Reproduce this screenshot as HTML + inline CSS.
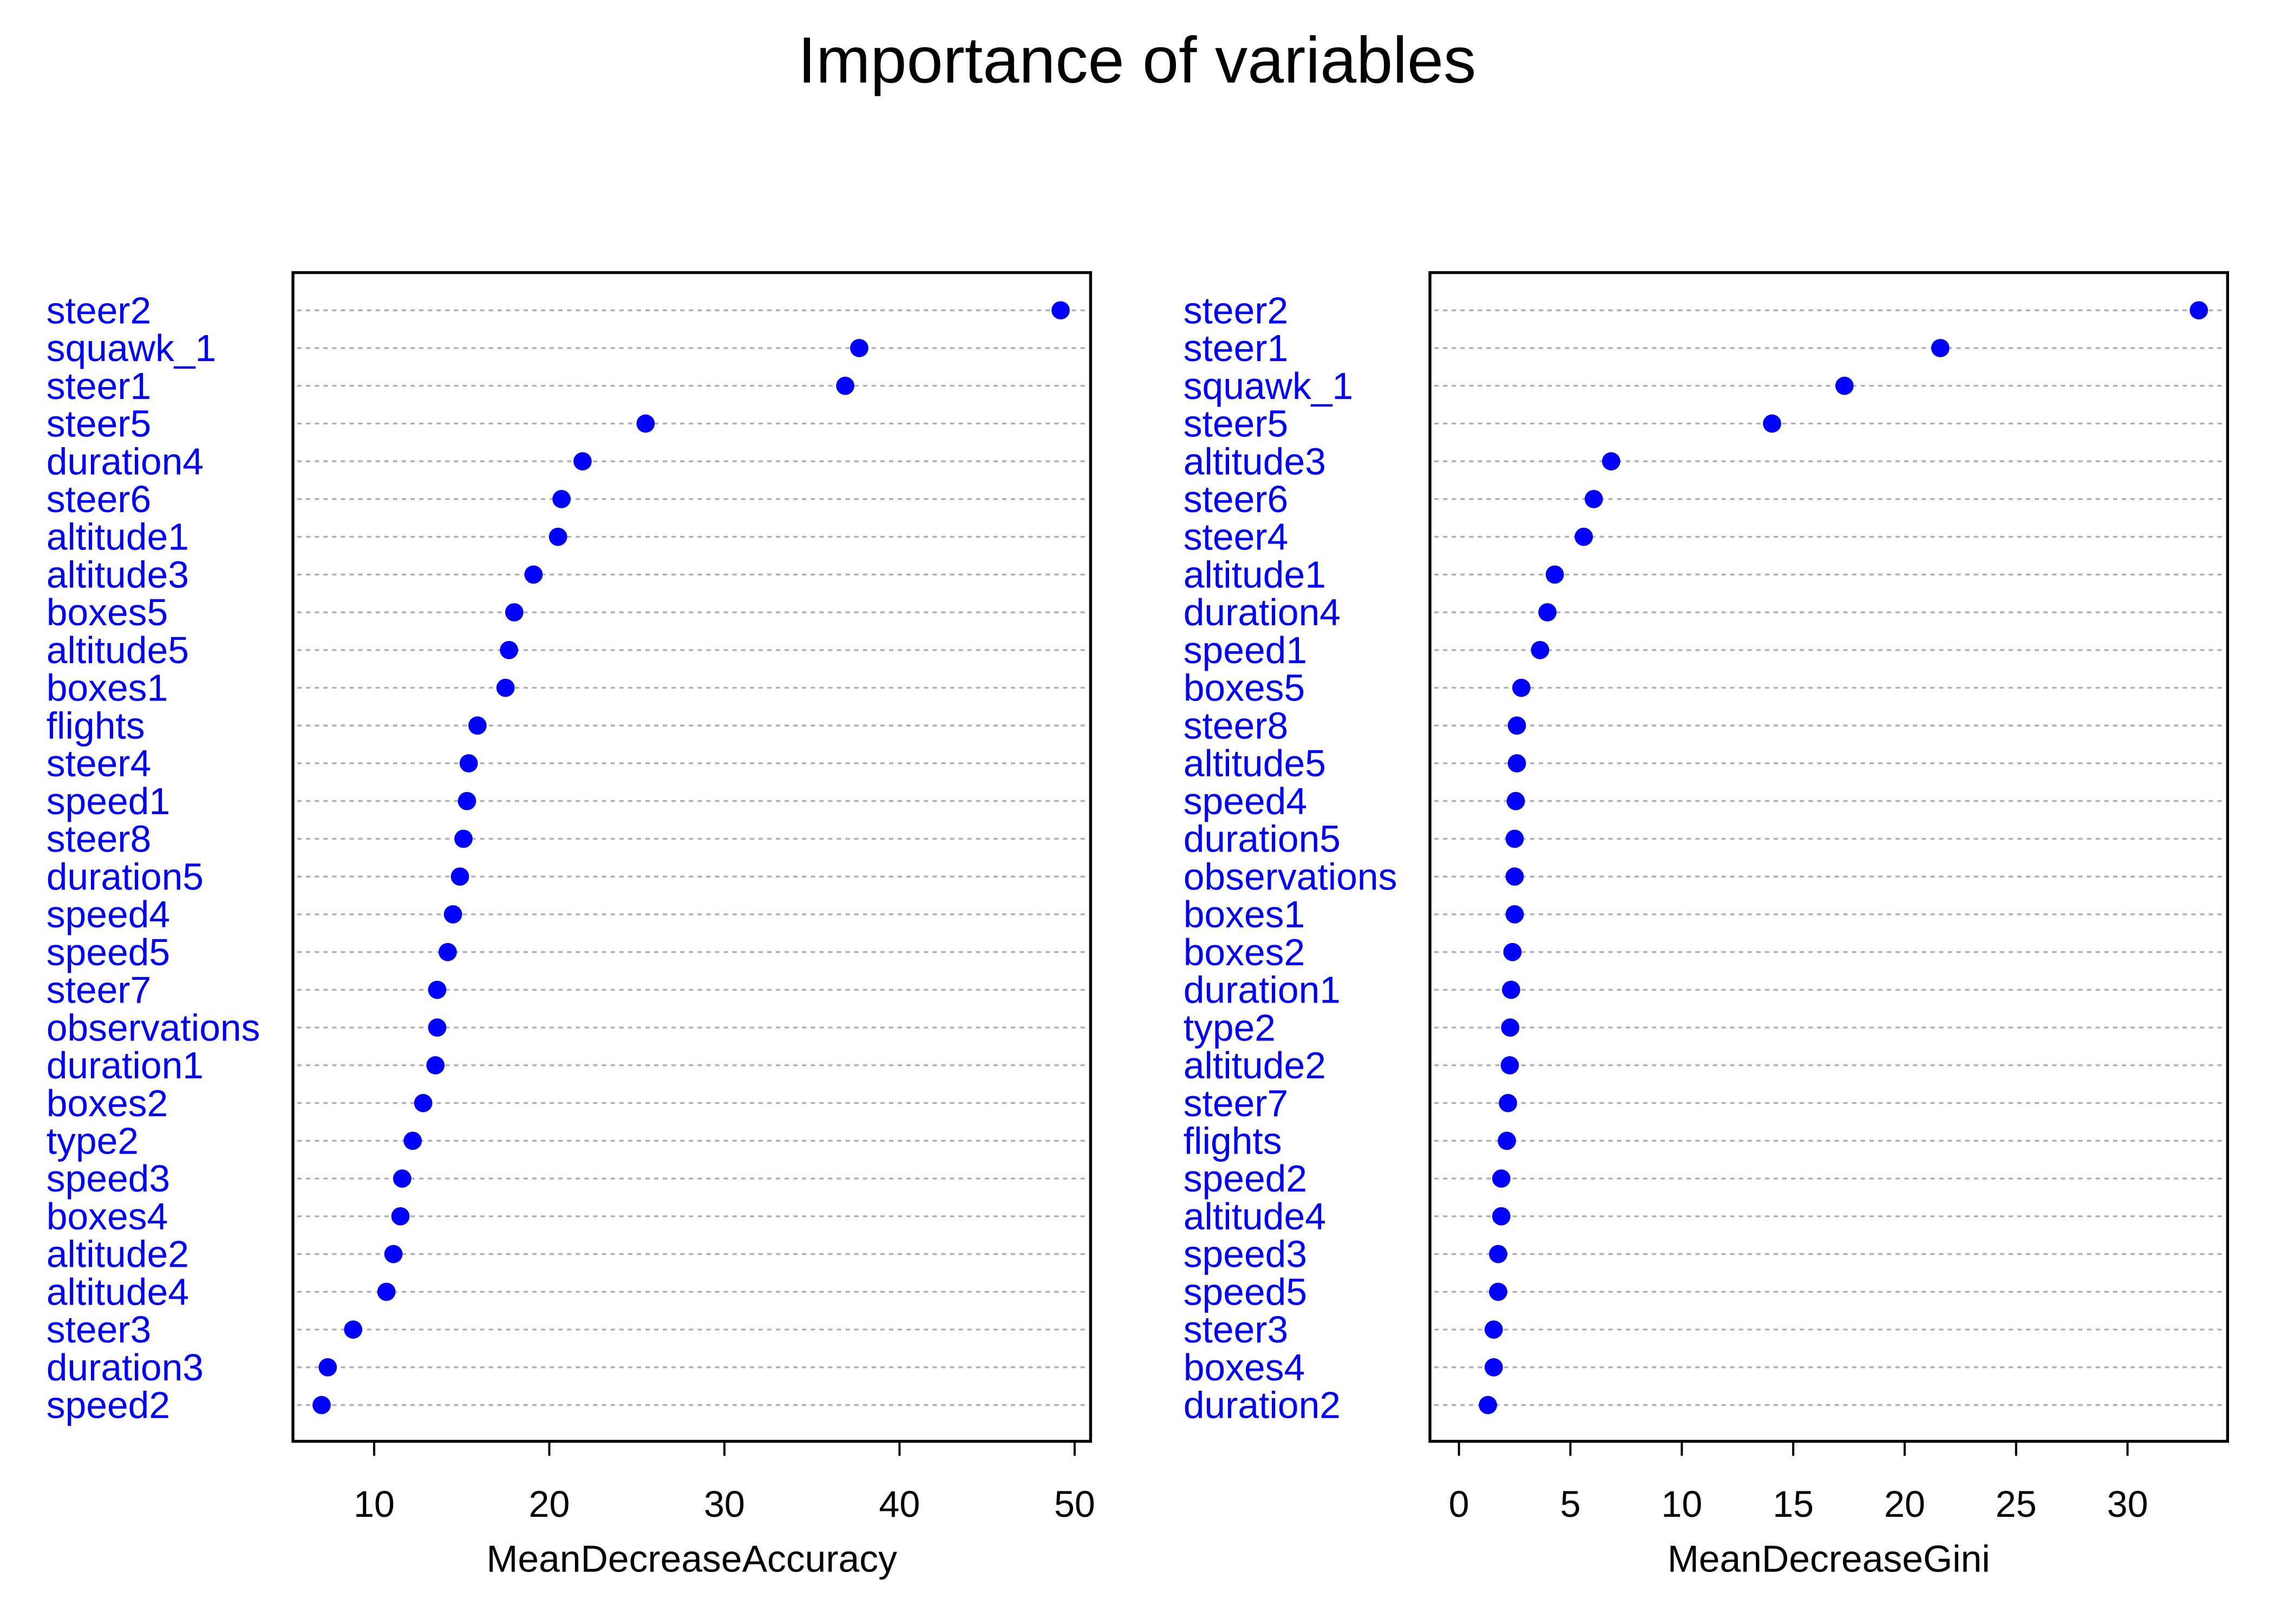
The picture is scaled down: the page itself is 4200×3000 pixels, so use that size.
<!DOCTYPE html>
<html><head><meta charset="utf-8"><style>
html,body{margin:0;padding:0;background:#fff;}
svg{display:block;font-family:"Liberation Sans",Arial,sans-serif;}
</style></head><body>
<svg id="chart" width="4200" height="3000" viewBox="0 0 1568 1120" preserveAspectRatio="none" xmlns="http://www.w3.org/2000/svg">
<rect width="1568" height="1120" fill="#fff"/>
<text x="784" y="57" font-size="45" text-anchor="middle" fill="#000">Importance of variables</text>
<g id="p1"></g>
<g id="p2"></g>
</svg>
<script>
const accLabels = ["steer2","squawk_1","steer1","steer5","duration4","steer6","altitude1","altitude3","boxes5","altitude5","boxes1","flights","steer4","speed1","steer8","duration5","speed4","speed5","steer7","observations","duration1","boxes2","type2","speed3","boxes4","altitude2","altitude4","steer3","duration3","speed2"];
const accValues = [49.2,37.7,36.9,25.5,21.9,20.7,20.5,19.1,18.0,17.7,17.5,15.9,15.4,15.3,15.1,14.9,14.5,14.2,13.6,13.6,13.5,12.8,12.2,11.6,11.5,11.1,10.7,8.8,7.35,7.0];
const accTicks = [10,20,30,40,50];
const giniLabels = ["steer2","steer1","squawk_1","steer5","altitude3","steer6","steer4","altitude1","duration4","speed1","boxes5","steer8","altitude5","speed4","duration5","observations","boxes1","boxes2","duration1","type2","altitude2","steer7","flights","speed2","altitude4","speed3","speed5","steer3","boxes4","duration2"];
const giniValues = [33.2,21.6,17.3,14.05,6.83,6.05,5.6,4.3,3.97,3.64,2.8,2.6,2.6,2.55,2.5,2.5,2.5,2.4,2.34,2.3,2.28,2.2,2.15,1.9,1.9,1.76,1.76,1.56,1.56,1.3];
const giniTicks = [0,5,10,15,20,25,30];
const NS="http://www.w3.org/2000/svg";
function mk(parent,tag,attrs){const e=document.createElementNS(NS,tag);for(const k in attrs)e.setAttribute(k,attrs[k]);parent.appendChild(e);return e;}
function panel(g,labels,values,ticks,left,labelX,v0,x0,v1,x1,title){
  const right=left+550, top=188, bottom=994;
  const sx=v=>x0+(v-v0)*(x1-x0)/(v1-v0);
  const sy=i=>214+i*(969-214)/(labels.length-1);
  labels.forEach((lab,i)=>{
    const y=sy(i);
    const ln=mk(g,'line',{x1:left+3,x2:right-3,y1:y,y2:y,stroke:'#b0b0b0','stroke-width':1.3,'stroke-dasharray':'3,3'});
    
    
    const t=mk(g,'text',{x:labelX,y:y+9,'font-size':26,fill:'#0000ff'});
    t.textContent=lab;
    
    
    const c=mk(g,'circle',{cx:sx(values[i]),cy:y,r:6.3,fill:'#0000ff'});
    
    
  });
  const r=mk(g,'rect',{x:left,y:top,width:550,height:bottom-top,fill:'none',stroke:'#000','stroke-width':2});
  
  
  const ax=mk(g,'line',{x1:sx(ticks[0]),x2:sx(ticks[ticks.length-1]),y1:bottom,y2:bottom,stroke:'#000','stroke-width':1.5});
  
  
  ticks.forEach(v=>{
    const tk=mk(g,'line',{x1:sx(v),x2:sx(v),y1:bottom,y2:bottom+10,stroke:'#000','stroke-width':1.5});
    
    
    const tl=mk(g,'text',{x:sx(v),y:1046,'font-size':25.5,'text-anchor':'middle',fill:'#000'});
    tl.textContent=v;
    
    
  });
  const at=mk(g,'text',{x:left+275,y:1084,'font-size':26,'text-anchor':'middle',fill:'#000'});
  at.textContent=title;
  
  
}
panel(document.getElementById('p1'),accLabels,accValues,accTicks,202,32,10,258,50,741,'MeanDecreaseAccuracy');
panel(document.getElementById('p2'),giniLabels,giniValues,giniTicks,986,816,0,1006,30,1467,'MeanDecreaseGini');
</script>
</body></html>
